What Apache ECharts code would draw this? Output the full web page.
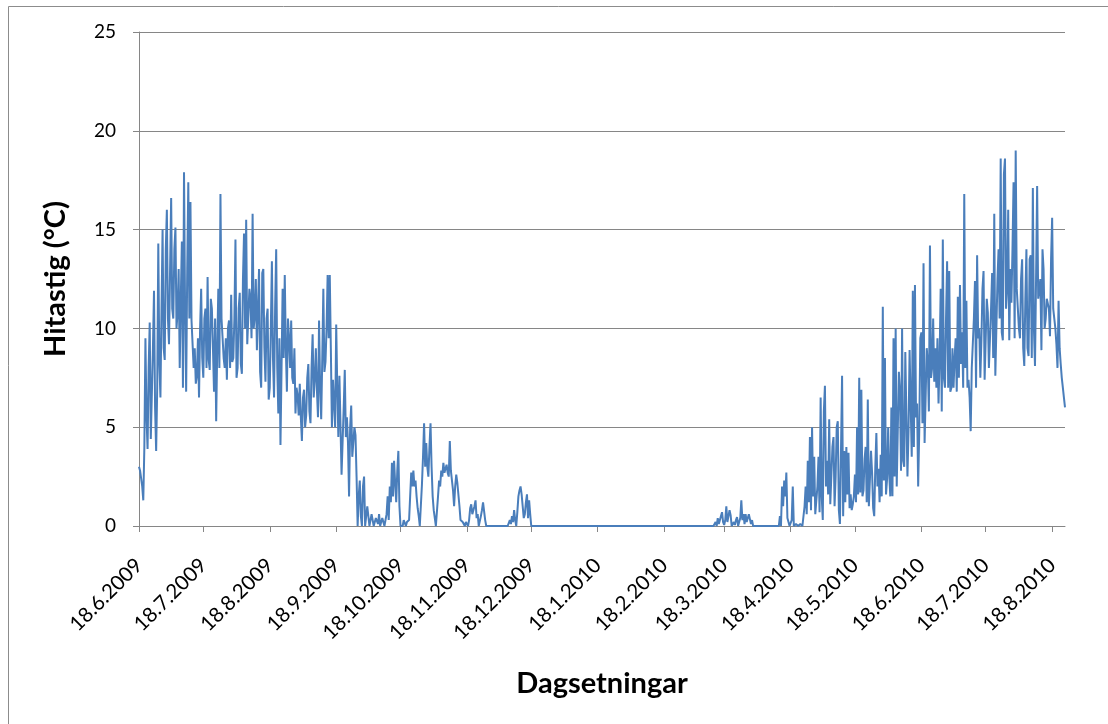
<!DOCTYPE html>
<html>
<head>
<meta charset="utf-8">
<script src="https://cdn.jsdelivr.net/npm/echarts@6/dist/echarts.min.js"></script>
<style>
html,body{margin:0;padding:0;background:#ffffff;}
#chart{width:1108px;height:724px;}
</style>
</head>
<body>
<div id="chart"></div>
<script>
// Half-daily temperature readings (°C), two per day (00:00, 12:00); one array per period from the 18th of each month
const jun09 = [3.0,2.8,2.7,2.0,1.3,4.0,9.5,5.5,3.9,8.0,10.3,4.4,4.5,9.0,11.9,6.0,3.8,7.0,14.3,8.2,
  6.5,11.0,15.0,9.0,8.4,14.0,16.0,10.5,9.2,13.0,16.6,11.0,10.5,14.0,15.1,10.0,10.8,13.0,8.0,11.5,
  14.4,7.0,17.9,11.0,6.8,13.0,17.4,10.5,16.4,10.4,10.4,8.0,9.0,7.2,7.6,9.5,6.5,10.0,12.0,8.5];
const jul09 = [7.5,10.5,11.0,8.0,12.6,8.4,7.9,11.5,11.0,9.0,6.8,10.5,5.3,9.0,12.0,8.0,16.8,10.5,10.5,8.5,
  8.0,9.5,7.4,10.0,10.4,8.0,11.7,8.3,8.5,10.5,14.5,7.5,8.0,11.0,11.8,8.2,7.7,12.5,14.8,10.0,
  15.5,9.2,9.2,12.0,11.5,9.5,15.8,10.0,10.6,12.5,8.9,11.0,13.0,7.8,7.0,12.8,13.0,9.0,7.3,10.5,
  11.0,6.4];
const aug09 = [7.0,10.0,13.4,8.5,6.5,11.0,14.0,8.0,5.7,9.5,4.1,8.0,12.0,8.5,12.7,9.0,6.8,10.5,
  9.5,8.0,10.4,7.5,7.2,9.0,5.7,7.0,6.6,5.6,7.2,5.5,4.3,6.5,6.9,5.0,5.6,7.5,8.2,5.8,
  5.2,8.0,9.7,6.5,7.4,9.0,6.9,5.5,10.4,7.0,5.4,8.5,12.0,7.8,8.3,10.0,12.7,9.5,12.7,9.0,
  5.0,7.4,7.4,5.0];
const sep09 = [10.2,7.0,4.5,7.6,7.6,2.6,2.6,6.0,7.9,4.5,5.5,4.2,1.5,5.0,6.1,3.5,3.6,5.0,4.6,2.5,
  0.0,1.5,2.3,0.5,0.0,2.0,2.5,0.0,0.0,1.0,1.1,0.0,0.0,0.6,0.5,0.0,0.0,0.4,0.5,0.1,
  0.6,0.0,0.0,0.4,0.5,0.0,0.0,0.6,1.5,0.3,2.0,1.2,3.2,1.5,3.3,2.2,1.2,2.8,3.8,1.0];
const oct09 = [0.0,0.0,0.0,0.3,0.3,0.0,0.2,0.3,0.3,1.5,2.7,2.0,2.8,2.0,2.3,1.5,0.9,0.5,0.0,0.0,
  2.1,3.5,5.2,3.0,4.2,3.0,2.5,4.0,5.2,3.0,1.5,0.8,0.8,0.0,0.0,1.5,2.3,2.0,2.8,2.5,
  3.2,2.7,2.9,3.1,2.7,2.5,4.3,2.8,2.9,1.8,1.0,2.0,2.6,2.2,2.3,1.0,0.3,0.2,0.2,0.2,
  0.0,0.2];
const nov09 = [0.2,0.0,0.3,0.9,1.1,0.6,0.8,1.0,1.3,0.4,0.6,0.0,0.0,0.5,0.8,1.2,1.3,0.3,0.0,0.0,
  0,0,0,0,0,0,0,0,0,0,0,0,0,0,0,0,0,0,0,0,
  0.3,0.1,0.5,0.2,0.8,0.3,0.0,0.7,1.5,1.8,2.0,1.6,1.0,0.4,0.6,1.2,1.6,0.4,1.3,0.6];
const dec09 = [0,0,0,0,0,0,0,0,0,0,0,0,0,0,0,0,0,0,0,0,0,0,0,0,0,0,0,0,0,0,0,
  0,0,0,0,0,0,0,0,0,0,0,0,0,0,0,0,0,0,0,0,0,0,0,0,0,0,0,0,0,0,0];
const jan10 = [0,0,0,0,0,0,0,0,0,0,0,0,0,0,0,0,0,0,0,0,0,0,0,0,0,0,0,0,0,0,0,
  0,0,0,0,0,0,0,0,0,0,0,0,0,0,0,0,0,0,0,0,0,0,0,0,0,0,0,0,0,0,0];
const feb10 = [0,0,0,0,0,0,0,0,0,0,0,0,0,0,0,0,0,0,0,0,0,0,0,
  0,0,0,0,0,0,0,0,0,0,0,0,0,0,0,0,0,0,0,0,0,0,0,
  0.0,0.1,0.2,0.0,0.4,0.1,0.0,0.5,0.7,0.2];
const mar10 = [0.05,0.3,1.0,0.2,0.3,0.8,0.55,0.0,0.0,0.2,0.05,0.3,0.45,0.0,0.0,0.4,1.3,0.3,0.6,0.1,
  0.6,0.2,0.2,0.6,0.55,0.1,0.3,0.0,
  0,0,0,0,0,0,0,0,0,0,0,0,0,0,0,0,0,0,0,0,0,0,0,0,
  0.5,0.0,2.0,1.0,2.3,1.5,2.7,0.4,0.3,0.0];
const apr10 = [0.0,0.3,2.0,0.0,0.0,0.1,0.0,0.0,0.0,0.1,0.1,0.0,0.1,1.0,2.0,0.6,3.3,1.2,4.5,0.8,
  5.0,1.5,3.5,0.6,0.6,2.0,3.5,0.7,6.5,1.5,0.3,5.8,7.1,2.0,3.3,1.6,5.4,1.1,1.1,4.0,
  4.5,1.0,2.5,5.0,5.3,0.8,0.1,0.0,7.6,0.5,3.8,1.2,4.0,1.6,3.7,0.9,1.6,0.8,1.1,1.5];
const may10 = [2.6,1.2,5.0,1.6,7.5,1.7,6.9,1.5,1.8,3.4,4.0,1.2,6.4,1.0,1.0,3.8,2.7,0.9,0.5,3.0,
  4.7,2.0,2.9,1.2,3.6,1.5,11.1,2.3,8.5,1.6,2.4,5.0,2.6,1.5,6.0,1.5,9.5,2.5,10.0,2.0,
  2.1,7.8,6.8,2.8,10.0,3.3,3.0,8.8,5.6,2.5,4.8,8.9,6.2,3.5,11.9,4.0,12.2,5.5,6.2,2.0,
  4.8,9.5];
const jun10 = [9.8,5.2,13.3,4.2,4.2,9.0,8.2,5.8,14.2,7.5,8.0,10.5,7.3,9.0,7.0,9.5,6.2,8.5,12.0,5.8,
  14.5,7.5,7.0,10.5,13.4,7.0,12.9,6.8,7.0,9.0,7.0,8.5,9.5,6.8,11.6,7.5,12.2,8.2,9.8,7.0,
  16.8,8.0,11.4,7.0,7.4,6.5,4.8,8.0,8.0,10.5,12.4,7.0,13.7,9.5,10.0,7.5,9.4,12.0,12.9,7.4];
const jul10 = [7.4,11.5,10.8,8.0,8.0,11.0,12.8,8.5,15.8,7.6,7.6,12.5,14.0,10.5,18.6,9.8,9.4,17.8,18.6,11.0,
  12.0,16.0,9.4,13.0,11.3,14.0,17.4,9.5,19.0,12.0,11.0,10.0,9.5,12.5,13.5,9.0,8.1,11.5,14.0,9.0,
  8.6,13.5,13.7,8.5,17.1,10.0,8.1,12.5,17.2,11.5,11.5,12.5,8.9,14.0,13.0,10.0,10.5,11.5,11.5,11.0,
  9.6,13.5];
const aug10 = [15.6,11.0,11.0,10.0,9.2,8.0,11.4,9.0,8.2,7.5,7.0,6.5,6.0];

// Tick labels shown on the date axis
const tickLabels = ['18.6.2009','18.7.2009','18.8.2009','18.9.2009','18.10.2009','18.11.2009','18.12.2009',
  '18.1.2010','18.2.2010','18.3.2010','18.4.2010','18.5.2010','18.6.2010','18.7.2010','18.8.2010'];

const values = [].concat(jun09, jul09, aug09, sep09, oct09, nov09, dec09, jan10, feb10, mar10, apr10, may10, jun10, jul10, aug10);

// half-daily categories starting 18.6.2009 00:00
const categories = values.map(function (v, i) {
  const d = new Date(Date.UTC(2009, 5, 18 + Math.floor(i / 2)));
  const s = d.getUTCDate() + '.' + (d.getUTCMonth() + 1) + '.' + d.getUTCFullYear();
  return (i % 2 === 0) ? s : s + ' 12:00';
});

const isTick = function (index, value) { return tickLabels.indexOf(value) !== -1; };

const chart = echarts.init(document.getElementById('chart'), null, {renderer: 'canvas'});
const axisColor = '#868686';
const fontFam = 'Lato, "Open Sans", sans-serif';

chart.setOption({
  animation: false,
  backgroundColor: '#ffffff',
  graphic: [{
    type: 'rect',
    shape: {x: 8.5, y: 6.5, width: 1300, height: 900},
    style: {fill: 'none', stroke: '#8c8c8c', lineWidth: 1},
    silent: true,
    z: -10
  }],
  grid: {left: 139, top: 32, width: 926, height: 494, containLabel: false},
  xAxis: {
    type: 'category',
    data: categories,
    boundaryGap: false,
    axisLine: {show: true, lineStyle: {color: axisColor, width: 1}},
    axisTick: {show: true, interval: isTick, length: 6, inside: false, lineStyle: {color: axisColor}},
    axisLabel: {interval: isTick, rotate: 45, margin: 36, fontSize: 20.5, fontFamily: fontFam, color: '#000000'},
    splitLine: {show: false},
    name: 'Dagsetningar',
    nameLocation: 'middle',
    nameGap: 143,
    nameMoveOverlap: false,
    nameTextStyle: {fontSize: 29, fontWeight: 'bold', fontFamily: fontFam, color: '#000000'}
  },
  yAxis: {
    type: 'value',
    min: 0,
    max: 25,
    interval: 5,
    axisLine: {show: true, lineStyle: {color: axisColor, width: 1}},
    axisTick: {show: true, length: 6, lineStyle: {color: axisColor}},
    axisLabel: {margin: 23, fontSize: 19, fontFamily: fontFam, color: '#000000'},
    splitLine: {show: true, lineStyle: {color: axisColor, width: 1}},
    name: 'Hitastig (°C)',
    nameLocation: 'middle',
    nameRotate: 90,
    nameGap: 69,
    nameMoveOverlap: false,
    nameTextStyle: {fontSize: 29, fontWeight: 'bold', fontFamily: fontFam, color: '#000000'}
  },
  series: [{
    type: 'line',
    data: values,
    showSymbol: false,
    symbol: 'none',
    sampling: null,
    lineStyle: {color: '#4a7ebb', width: 2},
    itemStyle: {color: '#4a7ebb'}
  }]
});
</script>
</body>
</html>
